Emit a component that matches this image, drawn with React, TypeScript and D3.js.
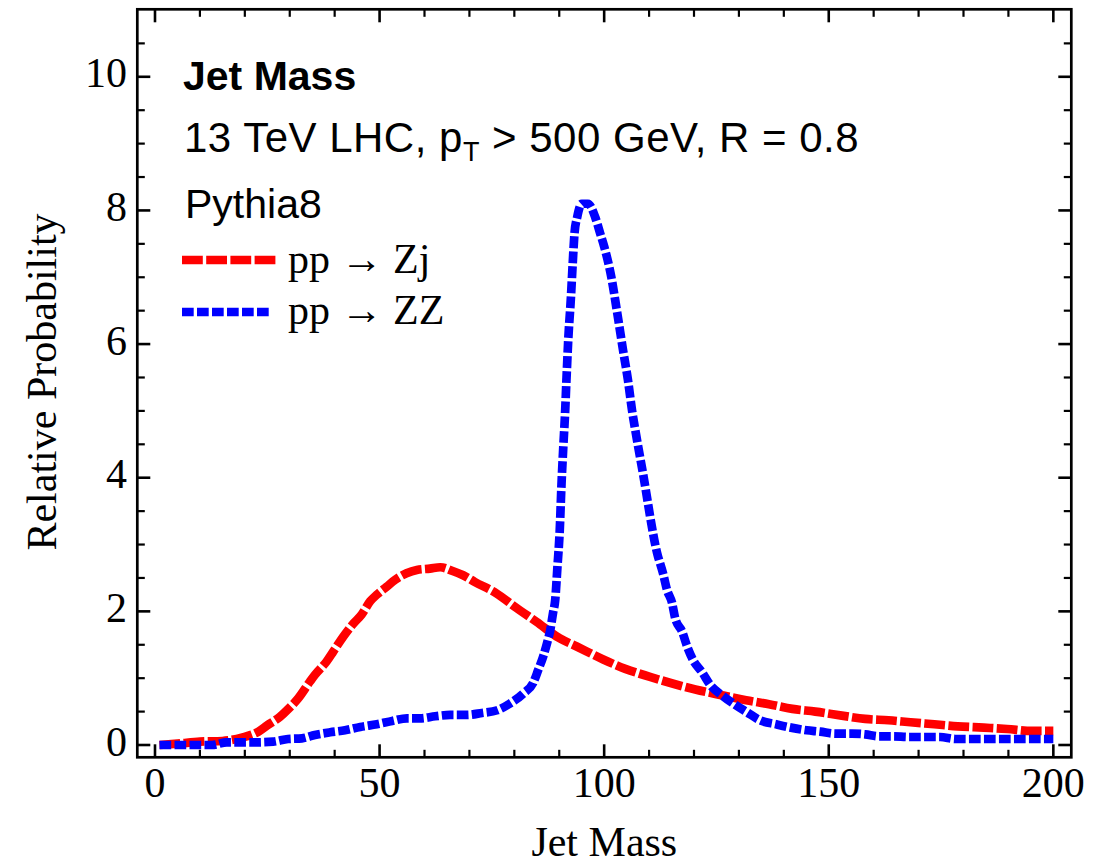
import React from "react";
import * as d3 from "d3";

// Jet mass distributions (relative probability per GeV)
const zjMass = [1, 5, 10, 15, 19.3, 23, 24.9, 27.8, 29.7, 31.9, 34.5, 35.6, 38.2, 39.7, 41.9, 44.2, 46, 47.9, 49.4, 51.6, 53.4, 56, 58.3, 61.2, 63.5, 66.4, 68.6, 71.2, 76, 80.5, 85, 90, 94, 99.8, 104.7, 110.2, 115.2, 120.3, 125.8, 131.6, 136.7, 141.9, 147, 152.9, 158.1, 163.3, 168.2, 173.5, 178.7, 184.5, 189.7, 195.3, 200];
const zjProb = [0, 0.02, 0.05, 0.06, 0.11, 0.2, 0.29, 0.42, 0.54, 0.7, 0.95, 1.05, 1.25, 1.4, 1.62, 1.82, 1.95, 2.15, 2.25, 2.37, 2.47, 2.57, 2.62, 2.64, 2.66, 2.6, 2.54, 2.44, 2.27, 2.05, 1.84, 1.6, 1.47, 1.28, 1.14, 1.02, 0.92, 0.83, 0.75, 0.67, 0.61, 0.54, 0.5, 0.44, 0.39, 0.37, 0.34, 0.31, 0.28, 0.26, 0.24, 0.21, 0.21];

const zzMass = [1, 6, 9.3, 12.7, 16, 19.4, 22.7, 26.3, 29.6, 32.7, 35.6, 39, 42.3, 45.7, 49.4, 52.8, 56.1, 59, 62.4, 65.7, 69.5, 72.8, 76.2, 79, 82, 84.2, 85.3, 86.4, 87.3, 88, 88.6, 89.1, 89.6, 90.1, 90.5, 90.9, 91.3, 91.6, 92, 92.6, 93, 93.4, 94, 95, 96.4, 98, 99.1, 100, 101.6, 102.9, 104.2, 105.3, 106.2, 107.3, 108.5, 111.8, 113.1, 114, 115.1, 115.8, 117.4, 118.5, 119.8, 121.8, 123.6, 126.3, 129.2, 131.8, 134.7, 138.3, 141.6, 145.1, 148.1, 151.4, 155.2, 158.1, 161.1, 164.4, 167.7, 171.5, 174.8, 178.2, 185, 192, 200];
const zzProb = [0, 0, 0, 0, 0.04, 0.04, 0.04, 0.05, 0.09, 0.1, 0.15, 0.19, 0.22, 0.27, 0.31, 0.36, 0.4, 0.4, 0.43, 0.45, 0.45, 0.48, 0.52, 0.62, 0.77, 0.93, 1.12, 1.32, 1.53, 1.72, 1.97, 2.17, 2.67, 3.2, 3.9, 4.46, 4.97, 5.46, 6.06, 6.7, 7.21, 7.66, 7.9, 8.1, 8.1, 7.9, 7.66, 7.46, 7.0, 6.47, 5.91, 5.46, 5.01, 4.57, 4.12, 2.87, 2.57, 2.32, 2.13, 1.9, 1.69, 1.47, 1.27, 1.09, 0.9, 0.74, 0.6, 0.49, 0.37, 0.31, 0.26, 0.22, 0.2, 0.17, 0.17, 0.16, 0.13, 0.13, 0.12, 0.12, 0.12, 0.09, 0.09, 0.09, 0.09];

const xMajorTicks = [0, 50, 100, 150, 200];
const yMajorTicks = [0, 2, 4, 6, 8, 10];

const W = 1114;
const H = 864;
const frame = { left: 137.3, right: 1071.3, top: 9.3, bottom: 757.3 };

const serif = "'Liberation Serif', 'Times New Roman', serif";
const sans = "'Liberation Sans', Arial, sans-serif";

export default function App() {
  const x = d3.scaleLinear().domain([-3.94, 204.0]).range([frame.left, frame.right]);
  const y = d3.scaleLinear().domain([-0.184, 11.01]).range([frame.bottom, frame.top]);

  const xMinor = d3.range(0, 201, 10).filter((v) => v % 50 !== 0);
  const yMinor = d3.range(0, 10.51, 0.5).filter((v) => Math.abs(v % 2) > 1e-6);

  const line = d3
    .line<[number, number]>()
    .x((d) => x(d[0]))
    .y((d) => y(d[1]))
    .curve(d3.curveMonotoneX);

  const zj = zjMass.map((m, i) => [m, zjProb[i]] as [number, number]);
  const zz = zzMass.map((m, i) => [m, zzProb[i]] as [number, number]);

  const tickColor = "#000";
  const majorLen = 13;
  const minorLen = 7.5;

  return (
    <svg
      width={W}
      height={H}
      viewBox={`0 0 ${W} ${H}`}
      style={{ position: "absolute", left: 0, top: 0, background: "#fff" }}
    >
      <rect x={0} y={0} width={W} height={H} fill="#fff" />

      {/* curves */}
      <path d={line(zj) || ""} fill="none" stroke="#ff0000" strokeWidth={8.7} strokeDasharray="20.8 3.4" />
      <path d={line(zz) || ""} fill="none" stroke="#0000ff" strokeWidth={8.7} strokeDasharray="11.7 3.3" />

      {/* frame */}
      <rect
        x={frame.left}
        y={frame.top}
        width={frame.right - frame.left}
        height={frame.bottom - frame.top}
        fill="none"
        stroke="#000"
        strokeWidth={2.7}
      />

      {/* x ticks, bottom and top */}
      {xMajorTicks.map((t) => (
        <g key={`xM${t}`} stroke={tickColor} strokeWidth={2.6}>
          <line x1={x(t)} x2={x(t)} y1={frame.bottom} y2={frame.bottom - majorLen} />
          <line x1={x(t)} x2={x(t)} y1={frame.top} y2={frame.top + majorLen} />
        </g>
      ))}
      {xMinor.map((t) => (
        <g key={`xm${t}`} stroke={tickColor} strokeWidth={2.2}>
          <line x1={x(t)} x2={x(t)} y1={frame.bottom} y2={frame.bottom - minorLen} />
          <line x1={x(t)} x2={x(t)} y1={frame.top} y2={frame.top + minorLen} />
        </g>
      ))}

      {/* y ticks, left and right */}
      {yMajorTicks.map((t) => (
        <g key={`yM${t}`} stroke={tickColor} strokeWidth={2.6}>
          <line x1={frame.left} x2={frame.left + majorLen} y1={y(t)} y2={y(t)} />
          <line x1={frame.right} x2={frame.right - majorLen} y1={y(t)} y2={y(t)} />
        </g>
      ))}
      {yMinor.map((t) => (
        <g key={`ym${t}`} stroke={tickColor} strokeWidth={2.2}>
          <line x1={frame.left} x2={frame.left + minorLen} y1={y(t)} y2={y(t)} />
          <line x1={frame.right} x2={frame.right - minorLen} y1={y(t)} y2={y(t)} />
        </g>
      ))}

      {/* tick labels */}
      {xMajorTicks.map((t) => (
        <text key={`xl${t}`} x={x(t)} y={797} textAnchor="middle" fontFamily={serif} fontSize={42} fill="#000">
          {t}
        </text>
      ))}
      {yMajorTicks.map((t) => (
        <text key={`yl${t}`} x={127} y={y(t) + 10.5} textAnchor="end" fontFamily={serif} fontSize={42} fill="#000">
          {t}
        </text>
      ))}

      {/* axis titles */}
      <text x={(frame.left + frame.right) / 2} y={856} textAnchor="middle" fontFamily={serif} fontSize={42} fill="#000">
        Jet Mass
      </text>
      <text
        transform={`translate(56, 382) rotate(-90)`}
        textAnchor="middle"
        fontFamily={serif}
        fontSize={42}
        fill="#000"
      >
        Relative Probability
      </text>

      {/* annotation */}
      <text x={183} y={90} fontFamily={sans} fontWeight="bold" fontSize={41} fill="#000">
        Jet Mass
      </text>
      <text x={184} y={152} fontFamily={sans} fontSize={42} letterSpacing={0.5} fill="#000">
        13 TeV LHC, p
        <tspan fontSize={27} dy={9}>T</tspan>
        <tspan dy={-9}> &gt; 500 GeV, R = 0.8</tspan>
      </text>
      <text x={185} y={218} fontFamily={sans} fontSize={41} fill="#000">
        Pythia8
      </text>

      {/* legend */}
      <line x1={182} x2={276} y1={260} y2={260} stroke="#ff0000" strokeWidth={8.7} strokeDasharray="20.8 3.4" />
      <text x={288} y={273} fontFamily={serif} fontSize={42} fill="#000">
        pp → Zj
      </text>
      <line x1={182} x2={270} y1={312} y2={312} stroke="#0000ff" strokeWidth={8.7} strokeDasharray="11.7 3.3" />
      <text x={288} y={324} fontFamily={serif} fontSize={42} fill="#000">
        pp → ZZ
      </text>
    </svg>
  );
}
